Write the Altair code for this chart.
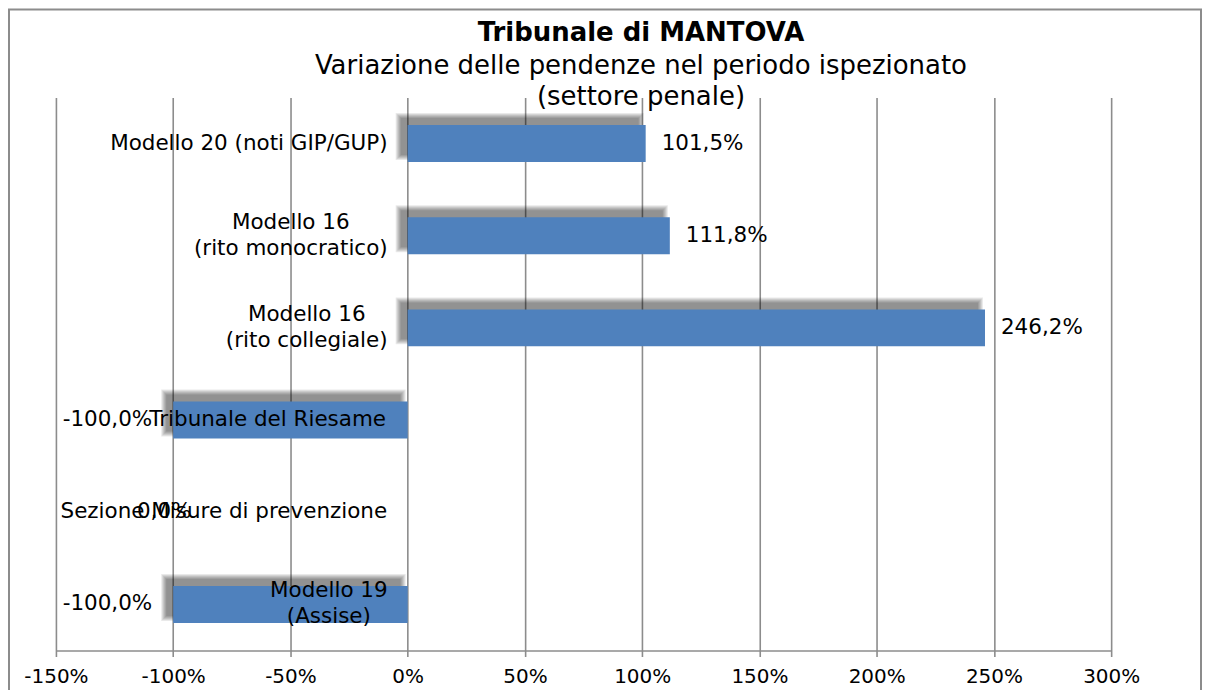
import altair as alt
import pandas as pd

categories = [
    "Modello 20 (noti GIP/GUP)",
    "Modello 16\n(rito monocratico)",
    "Modello 16\n(rito collegiale)",
    "Tribunale del Riesame",
    "Sezione Misure di prevenzione",
    "Modello 19\n(Assise)",
]
values = [101.5, 111.8, 246.2, -100.0, 0.0, -100.0]
value_labels = ["101,5%", "111,8%", "246,2%", "-100,0%", "0,0%", "-100,0%"]
x_ticks = [-150, -100, -50, 0, 50, 100, 150, 200, 250, 300]
title_text = "Tribunale di MANTOVA"
subtitle_lines = ["Variazione delle pendenze nel periodo ispezionato", "(settore penale)"]

FONT = "DejaVu Sans"
BLUE = "#4F81BD"
GRID = "#8C8C8C"
W_PX, H_PX = 1057, 554
X_DOMAIN = [-150, 300]
LABEL_FS = 21.5
LINE_H = 26

# approximate DejaVu Sans advance widths (em) used to centre multi-line labels
CW = {" ": .318, "(": .390, ")": .390, "/": .337, "A": .684, "G": .775, "I": .295,
      "M": .863, "P": .603, "R": .695, "S": .635, "T": .611, "U": .732,
      "a": .613, "b": .635, "c": .550, "d": .635, "e": .615, "g": .635, "i": .278,
      "l": .278, "m": .974, "n": .634, "o": .612, "p": .635, "r": .411, "s": .521,
      "t": .392, "u": .634, "v": .592, "z": .525}


def text_w(s):
    return sum(CW.get(c, .636) for c in s) * LABEL_FS


# one row per label line; lines of a label are centred on each other,
# and the block is right-aligned 20px left of the 0% line
rows = []
px_per_unit = W_PX / (X_DOMAIN[1] - X_DOMAIN[0])
for cat in categories:
    lines = cat.split("\n")
    wmax = max(text_w(l) for l in lines)
    centre = -(20 + wmax / 2) / px_per_unit
    for i, l in enumerate(lines):
        rows.append({"cat": cat, "line": l, "nlines": len(lines), "idx": i, "cx": centre})
lines_df = pd.DataFrame(rows)

df = pd.DataFrame({"cat": categories, "value": values, "label": value_labels})
df["lo"] = df["value"].clip(upper=0)
df["hi"] = df["value"].clip(lower=0)

xscale = alt.Scale(domain=X_DOMAIN, nice=False, zero=False)
xaxis = alt.Axis(
    values=x_ticks, labelExpr="datum.value + '%'", title=None,
    grid=True, gridColor=GRID, gridWidth=1.6,
    domainColor=GRID, domainWidth=1.6, tickColor=GRID, tickWidth=1.6, tickSize=6,
    labelFont=FONT, labelFontSize=20, labelColor="black", labelPadding=10,
    labelFlush=False, labelOverlap=False,
)


def xenc(field):
    return alt.X(f"{field}:Q", scale=xscale, axis=xaxis)


yenc = alt.Y("cat:N", sort=categories, axis=None,
             scale=alt.Scale(paddingInner=0, paddingOuter=0))

base = alt.Chart(df).encode(y=yenc)

layers = []
# soft drop shadow (up-left) behind bars
for e in [0, 1, 2, 3, 4, 5]:
    layers.append(
        base.transform_filter("datum.value != 0").mark_bar(
            color="black", opacity=0.085, size=37 + 2 * e,
            xOffset=-7 - e, x2Offset=-7 + e, yOffset=-7,
        ).encode(x=xenc("lo"), x2="hi:Q")
    )

bars = base.transform_filter("datum.value != 0").mark_bar(
    color=BLUE, size=37).encode(x=xenc("lo"), x2="hi:Q")
layers.append(bars)

lbase = alt.Chart(lines_df).encode(y=yenc, x=xenc("cx"), text="line:N")
tstyle = dict(align="center", baseline="middle", font=FONT, fontSize=LABEL_FS, color="black")
cat_single = lbase.transform_filter("datum.nlines == 1").mark_text(**tstyle)
cat_l0 = lbase.transform_filter("datum.nlines == 2 && datum.idx == 0").mark_text(dy=-LINE_H / 2, **tstyle)
cat_l1 = lbase.transform_filter("datum.nlines == 2 && datum.idx == 1").mark_text(dy=LINE_H / 2, **tstyle)

pos_lab = base.transform_filter("datum.value > 0").mark_text(
    align="left", baseline="middle", dx=16, font=FONT, fontSize=LABEL_FS, color="black"
).encode(x=xenc("value"), text="label:N")

neg_lab = base.transform_filter("datum.value < 0").mark_text(
    align="right", baseline="middle", dx=-21, font=FONT, fontSize=LABEL_FS, color="black"
).encode(x=xenc("value"), text="label:N")

zero_lab = base.transform_filter("datum.value == 0").transform_calculate(
    anchor="-100").mark_text(
    align="center", baseline="middle", dx=-9, font=FONT, fontSize=LABEL_FS, color="black"
).encode(x=xenc("anchor"), text="label:N")

one = alt.Data(values=[{"a": 1}])
frame = alt.Chart(one).mark_rect(
    fillOpacity=0, stroke=GRID, strokeWidth=2
).encode(x=alt.value(-47), x2=alt.value(1147), y=alt.value(-88), y2=alt.value(640))

title_mark = alt.Chart(one).mark_text(
    align="center", baseline="middle", font=FONT, fontSize=26, fontWeight="bold", color="black"
).encode(x=alt.value(586), y=alt.value(-65), text=alt.value(title_text))
sub1 = alt.Chart(one).mark_text(
    align="center", baseline="middle", font=FONT, fontSize=26, color="black"
).encode(x=alt.value(586), y=alt.value(-31), text=alt.value(subtitle_lines[0]))
sub2 = alt.Chart(one).mark_text(
    align="center", baseline="middle", font=FONT, fontSize=26, color="black"
).encode(x=alt.value(586), y=alt.value(0), text=alt.value(subtitle_lines[1]))

chart = alt.layer(
    frame, *layers, cat_single, cat_l0, cat_l1, pos_lab, neg_lab, zero_lab,
    title_mark, sub1, sub2,
).properties(
    width=W_PX, height=H_PX,
    autosize=alt.AutoSizeParams(type="none"),
    padding={"left": 48, "top": 89, "right": 92, "bottom": 40},
).configure_view(stroke=None)

chart.save("out.html", embed_options={"renderer": "svg", "actions": False})
